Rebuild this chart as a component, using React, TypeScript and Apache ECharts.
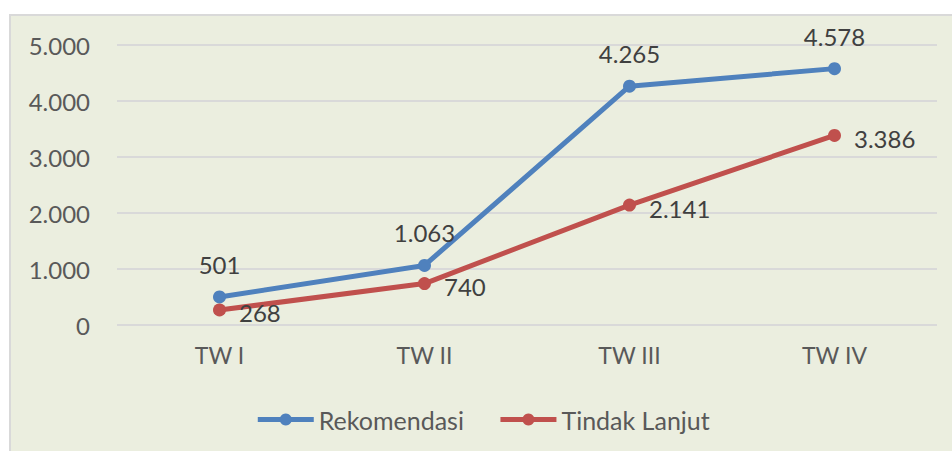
import React, { useEffect, useRef } from "react";
import * as echarts from "echarts";

const categories = ["TW I", "TW II", "TW III", "TW IV"];
const rekomendasi = [501, 1063, 4265, 4578];
const tindakLanjut = [268, 740, 2141, 3386];
const yTicks = [0, 1000, 2000, 3000, 4000, 5000];

const fmt = (v: number) => String(Math.round(v)).replace(/\B(?=(\d{3})+(?!\d))/g, ".");

const FONT = "Lato";

export default function App() {
  const ref = useRef<HTMLDivElement>(null);
  useEffect(() => {
    const chart = echarts.init(ref.current!, null, { renderer: "svg" });
    chart.setOption({
      animation: false,
      backgroundColor: "transparent",
      textStyle: { fontFamily: FONT },
      grid: { left: 106, right: 17, top: 29, bottom: 128 },
      xAxis: {
        type: "category",
        data: categories,
        boundaryGap: true,
        axisLine: { show: false },
        axisTick: { show: false },
        axisLabel: { color: "#595959", fontSize: 23, fontFamily: FONT, margin: 18 },
      },
      yAxis: {
        type: "value",
        min: yTicks[0],
        max: yTicks[yTicks.length - 1],
        interval: 1000,
        axisLine: { show: false },
        axisTick: { show: false },
        splitLine: { lineStyle: { color: "#D9D9D9", width: 2 } },
        axisLabel: {
          color: "#595959",
          fontSize: 24,
          fontFamily: FONT,
          margin: 27,
          formatter: (v: number) => fmt(v),
        },
      },
      legend: {
        top: 386,
        left: "center",
        itemWidth: 56,
        itemHeight: 15,
        itemGap: 34,
        lineStyle: { width: 5 },
        textStyle: { color: "#595959", fontSize: 25, fontFamily: FONT },
        data: ["Rekomendasi", "Tindak Lanjut"],
      },
      series: [
        {
          name: "Rekomendasi",
          type: "line",
          data: rekomendasi,
          color: "#4F81BD",
          lineStyle: { width: 5, color: "#4F81BD" },
          symbol: "circle",
          symbolSize: 13,
          itemStyle: { color: "#4F81BD" },
          label: {
            show: true,
            position: "top",
            distance: 14,
            color: "#404040",
            fontSize: 24,
            fontFamily: FONT,
            formatter: (p: any) => fmt(p.value),
          },
        },
        {
          name: "Tindak Lanjut",
          type: "line",
          data: tindakLanjut,
          color: "#C0504D",
          lineStyle: { width: 5, color: "#C0504D" },
          symbol: "circle",
          symbolSize: 13,
          itemStyle: { color: "#C0504D" },
          label: {
            show: true,
            position: "right",
            distance: 13,
            offset: [0, 3],
            color: "#404040",
            fontSize: 24,
            fontFamily: FONT,
            formatter: (p: any) => fmt(p.value),
          },
        },
      ],
    });
    return () => chart.dispose();
  }, []);
  return (
    <div
      style={{
        position: "fixed",
        left: 9,
        top: 14,
        width: 960,
        height: 450,
        background: "#EBEEDF",
        borderLeft: "2px solid #D9D9D9",
        borderTop: "2px solid #D9D9D9",
      }}
    >
      <div ref={ref} style={{ width: 943, height: 437 }} />
    </div>
  );
}
